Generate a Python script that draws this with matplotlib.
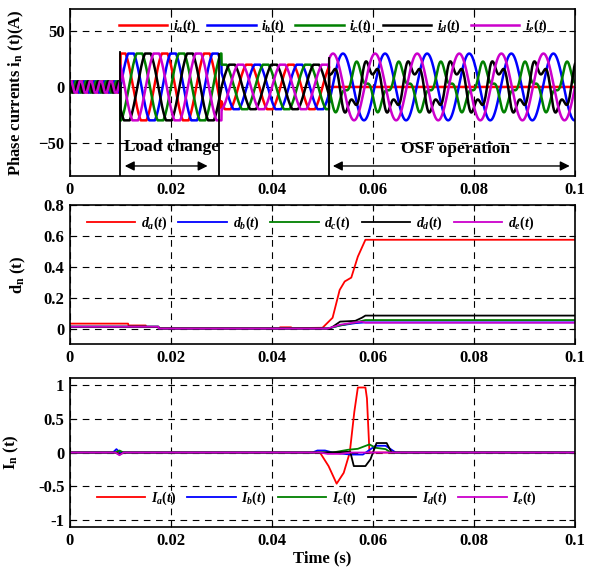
import numpy as np
import matplotlib
matplotlib.use("Agg")
import matplotlib.pyplot as plt

plt.rcParams['font.family'] = ['Liberation Serif', 'DejaVu Serif']
plt.rcParams['font.weight'] = 'bold'
plt.rcParams['axes.labelweight'] = 'bold'
plt.rcParams['mathtext.fontset'] = 'custom'
plt.rcParams['mathtext.rm'] = 'Liberation Serif:bold'
plt.rcParams['mathtext.it'] = 'Liberation Serif:bold:italic'
plt.rcParams['mathtext.bf'] = 'Liberation Serif:bold'

colors = ['#ff0000', '#0000ff', '#008000', '#000000', '#cc00cc']
phases = ['a', 'b', 'c', 'd', 'e']

# phase currents: segment start times, amplitude, clip level, frequency
seg_start = [0.0, 0.010, 0.030, 0.0513]
seg_amp = [6, 33, 22, None]
seg_clip = [5, 30, 20, None]
seg_freq = [500, 120, 120, 120]
# OSF operation: fundamental / 3rd harmonic amplitude per phase
osf_amp1 = [0, 30, 17, 20, 30]
osf_amp3 = [0, 0, 6, 8, 0]
osf_phase = [0, -85, 150, 40, 0]

# d_n(t) knots
d_t = {
    'a': [0, 0.0115, 0.0116, 0.015, 0.0151, 0.0175, 0.0176, 0.0415, 0.0416, 0.0438, 0.0439, 0.050, 0.052,
          0.0534, 0.0544, 0.0557, 0.057, 0.0585, 0.064, 0.1],
    'b': [0, 0.0175, 0.0176, 0.051, 0.0535, 0.0565, 0.0585, 0.1],
    'c': [0, 0.0175, 0.0176, 0.051, 0.0535, 0.0565, 0.0585, 0.1],
    'd': [0, 0.0175, 0.0176, 0.0515, 0.0535, 0.0565, 0.0578, 0.0585, 0.1],
    'e': [0, 0.0175, 0.0176, 0.051, 0.0535, 0.0565, 0.0578, 0.0585, 0.1],
}
d_v = {
    'a': [0.032, 0.032, 0.02, 0.02, 0.01, 0.01, 0.002, 0.002, 0.008, 0.008, 0.003, 0.005, 0.07,
          0.25, 0.305, 0.33, 0.466, 0.575, 0.575, 0.575],
    'b': [0.012, 0.012, 0.0, 0.0, 0.02, 0.035, 0.04, 0.04],
    'c': [0.012, 0.012, 0.0, 0.0, 0.02, 0.04, 0.055, 0.055],
    'd': [0.012, 0.012, 0.0, 0.0, 0.045, 0.05, 0.07, 0.084, 0.084],
    'e': [0.012, 0.012, 0.0, 0.0, 0.025, 0.04, 0.045, 0.038, 0.038],
}

# I_n(t) knots
I_t = {
    'a': [0, 0.0495, 0.0512, 0.0528, 0.0542, 0.0554, 0.0563, 0.057, 0.0585, 0.0588, 0.0593, 0.1],
    'b': [0, 0.0085, 0.0092, 0.0099, 0.048, 0.049, 0.0505, 0.052, 0.0555, 0.058, 0.0605, 0.0625, 0.0645, 0.1],
    'c': [0, 0.009, 0.0098, 0.0106, 0.052, 0.055, 0.057, 0.0593, 0.0605, 0.0625, 0.0635, 0.1],
    'd': [0, 0.009, 0.0098, 0.0106, 0.05, 0.0555, 0.0562, 0.0585, 0.0595, 0.0607, 0.0627, 0.0637, 0.1],
    'e': [0, 0.009, 0.0098, 0.0106, 0.0495, 0.051, 0.0535, 0.0555, 0.1],
}
I_v = {
    'a': [0, 0, -0.2, -0.46, -0.3, 0.0, 0.6, 0.96, 0.96, 0.8, 0.0, 0.0],
    'b': [0, 0, 0.05, 0, 0, 0.03, 0.03, 0, -0.03, -0.03, 0.1, 0.1, 0, 0],
    'c': [0, 0, 0.03, 0, 0, 0.04, 0.055, 0.12, 0.07, 0.05, 0, 0],
    'd': [0, 0, -0.03, 0, 0, 0.01, -0.2, -0.2, -0.1, 0.14, 0.14, 0, 0],
    'e': [0, 0, -0.04, 0, 0, -0.02, -0.02, 0, 0],
}

t = np.linspace(0, 0.1, 6000)


def phase_current(k):
    out = np.zeros_like(t)
    shift = -2 * np.pi * k / 5
    for j in range(3):
        m = (t >= seg_start[j]) & (t < seg_start[j + 1])
        w = 2 * np.pi * seg_freq[j]
        out[m] = np.clip(seg_amp[j] * np.sin(w * t[m] + shift), -seg_clip[j], seg_clip[j])
    m = t >= seg_start[3]
    w = 2 * np.pi * seg_freq[3]
    ph = np.deg2rad(osf_phase[k])
    out[m] = osf_amp1[k] * np.sin(w * t[m] + ph) + osf_amp3[k] * np.sin(3 * w * t[m] + 2 * ph)
    return out


fig = plt.figure(figsize=(5.9, 5.67), dpi=100)
ax1 = fig.add_axes([0.1186, 0.6896, 0.856, 0.2945])
ax2 = fig.add_axes([0.1186, 0.3933, 0.856, 0.2451])
ax3 = fig.add_axes([0.1186, 0.0705, 0.856, 0.2628])

for k, p in enumerate(phases):
    ax1.plot(t, phase_current(k), color=colors[k], lw=1.8, label=r'$i_%s(t)$' % p)
    ax2.plot(d_t[p], d_v[p], color=colors[k], lw=1.3, label=r'$d_%s(t)$' % p)
    ax3.plot(I_t[p], I_v[p], color=colors[k], lw=1.3, label=r'$I_%s(t)$' % p)

# annotations on top plot
for xv, top in [(0.010, 31), (0.0295, 30), (0.0513, 26)]:
    ax1.plot([xv, xv], [-80, top], color='k', lw=1.3)
ax1.annotate('', xy=(0.0103, -71), xytext=(0.0278, -71),
             arrowprops=dict(arrowstyle='<|-|>', color='k', lw=1.0, mutation_scale=14))
ax1.annotate('', xy=(0.0515, -71), xytext=(0.0995, -71),
             arrowprops=dict(arrowstyle='<|-|>', color='k', lw=1.0, mutation_scale=14))
ax1.text(0.0202, -54, 'Load change', ha='center', va='center', fontsize=12.5, fontweight='bold')
ax1.text(0.0764, -56, 'OSF operation', ha='center', va='center', fontsize=12.5, fontweight='bold')

ax1.set_ylim(-80, 70)
ax1.set_yticks([-50, 0, 50])
ax2.set_ylim(-0.1, 0.8)
ax2.set_yticks([0, 0.2, 0.4, 0.6, 0.8])
ax2.set_yticklabels(['0', '0.2', '0.4', '0.6', '0.8'])
ax3.set_ylim(-1.1, 1.1)
ax3.set_yticks([-1, -0.5, 0, 0.5, 1])
ax3.set_yticklabels(['-1', '-0.5', '0', '0.5', '1'])

for ax in (ax1, ax2, ax3):
    ax.set_xlim(0, 0.1)
    ax.set_xticks([0, 0.02, 0.04, 0.06, 0.08, 0.1])
    ax.set_xticklabels(['0', '0.02', '0.04', '0.06', '0.08', '0.1'])
    ax.grid(True, color='k', linestyle=(0, (6, 5)), lw=0.8)
    ax.tick_params(direction='in', top=True, right=True, labelsize=12, length=4, pad=4)
    for s in ax.spines.values():
        s.set_linewidth(1.2)

ax1.set_ylabel(r'Phase currents i$_{\mathrm{n}}$ (t)(A)', fontsize=12, labelpad=9)
ax2.set_ylabel(r'd$_{\mathrm{n}}$ (t)', fontsize=12, labelpad=11)
ax3.set_ylabel(r'I$_{\mathrm{n}}$ (t)', fontsize=12, labelpad=12)
ax3.set_xlabel('Time (s)', fontsize=12, labelpad=1)

leg_kw = dict(ncol=5, frameon=False, handlelength=3.5, handletextpad=0.4, fontsize=10)
ax1.legend(loc='center left', bbox_to_anchor=(0.072, 0.895), columnspacing=0.75, **leg_kw)
ax2.legend(loc='center left', bbox_to_anchor=(0.008, 0.87), columnspacing=0.8, **leg_kw)
ax3.legend(loc='center left', bbox_to_anchor=(0.028, 0.195), columnspacing=0.8, **leg_kw)

fig.savefig('out.png', dpi=100)
